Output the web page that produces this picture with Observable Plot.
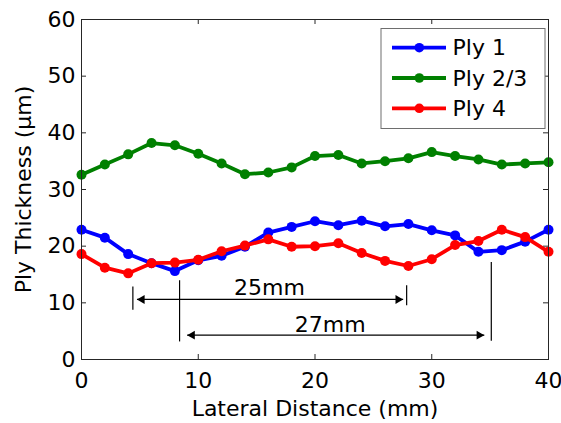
<!DOCTYPE html>
<html><head><meta charset="utf-8">
<script src="https://cdn.jsdelivr.net/npm/d3@7"></script>
<script src="https://cdn.jsdelivr.net/npm/@observablehq/plot@0.6"></script>
<style>body{margin:0;background:#fff;} #chart{width:561px;height:423px;}</style>
</head><body><div id="chart"></div>
<script>
// ---- data ----
const distance = [0,2,4,6,8,10,12,14,16,18,20,22,24,26,28,30,32,34,36,38,40];
const ply1  = [22.9,21.5,18.6,17.0,15.6,17.5,18.3,19.9,22.4,23.4,24.4,23.7,24.5,23.5,23.9,22.8,21.9,19.0,19.3,20.8,22.9];
const ply23 = [32.6,34.4,36.2,38.2,37.8,36.3,34.6,32.7,33.0,33.9,35.9,36.1,34.6,35.0,35.5,36.6,35.9,35.3,34.4,34.6,34.8];
const ply4  = [18.6,16.2,15.2,17.0,17.1,17.6,19.1,20.1,21.2,19.9,20.0,20.5,18.8,17.4,16.5,17.7,20.2,20.9,22.9,21.6,19.0];
const seriesNames  = ["Ply 1","Ply 2/3","Ply 4"];
const seriesColors = ["#0000ff","#008000","#ff0000"];
const xTicks = [0,10,20,30,40];
const yTicks = [0,10,20,30,40,50,60];
const innerXTicks = [10,20,30];
const innerYTicks = [10,20,30,40,50];
const xLabel = "Lateral Distance (mm)";
const yLabel = "Ply Thickness (µm)";
// annotation: bounding bars and spans
const spanBars = [
  {x:4.4,  y1:8.7, y2:12.8},
  {x:27.85,y1:9.5, y2:13.0},
  {x:8.4,  y1:3.1, y2:13.9},
  {x:35.1, y1:3.2, y2:17.1}
];
const spanArrows = [
  {label:"25mm", x1:4.75, x2:27.55, y:10.6, lx:16.1, ly:12.7},
  {label:"27mm", x1:9.05, x2:34.5,  y:4.3,  lx:21.3, ly:6.1}
];

// ---- build ----
const seriesValues = [ply1, ply23, ply4];
const W=561, H=423, mL=81, mR=13, mT=19, mB=64;
const fw = W-mL-mR, fh = H-mT-mB, tk = 5;
const font = "DejaVu Sans";
const axisColor = "#262626";

const seriesMarks = seriesNames.flatMap((name,i) => {
  const rows = distance.map((d,j) => ({x:d, y:seriesValues[i][j]}));
  return [
    Plot.line(rows, {x:"x", y:"y", stroke:seriesColors[i], strokeWidth:3.8}),
    Plot.dot(rows, {x:"x", y:"y", fill:seriesColors[i], stroke:null, r:5})
  ];
});

const plot = Plot.plot({
  width:W, height:H, marginLeft:mL, marginRight:mR, marginTop:mT, marginBottom:mB,
  style:{fontFamily:font, fontSize:"22px", background:"#fff", color:"#000", overflow:"visible"},
  x:{domain:[0,40]},
  y:{domain:[0,60]},
  marks:[
    Plot.axisX(xTicks, {tickSize:0, tickPadding:13, label:null, fontSize:22}),
    Plot.axisY(yTicks, {tickSize:0, tickPadding:6, label:null, fontSize:22}),
    Plot.tickX(innerXTicks, {x:d=>d, insetTop: fh-tk, stroke:axisColor}),
    Plot.tickX(innerXTicks, {x:d=>d, insetBottom: fh-tk, stroke:axisColor}),
    Plot.tickY(innerYTicks, {y:d=>d, insetRight: fw-tk, stroke:axisColor}),
    Plot.tickY(innerYTicks, {y:d=>d, insetLeft: fw-tk, stroke:axisColor}),
    ...seriesMarks,
    Plot.ruleX(spanBars, {x:"x", y1:"y1", y2:"y2", stroke:"#000", strokeWidth:1.2}),
    Plot.link(spanArrows, {x1:"x1", x2:"x2", y1:"y", y2:"y", stroke:"#000", strokeWidth:1.2}),
    Plot.dot(spanArrows, {x:"x1", y:"y", symbol:"triangle", r:3.3, rotate:-90, dx:5.1, fill:"#000", stroke:null}),
    Plot.dot(spanArrows, {x:"x2", y:"y", symbol:"triangle", r:3.3, rotate:90, dx:-5.1, fill:"#000", stroke:null}),
    Plot.text(spanArrows, {x:"lx", y:"ly", text:"label", fontSize:22, fill:"#000"}),
    Plot.frame({stroke:axisColor}),
    Plot.text([xLabel], {frameAnchor:"bottom", dy:56, lineAnchor:"bottom", textAnchor:"middle", fontSize:22, fill:"#000"}),
    Plot.text([yLabel], {frameAnchor:"left", dx:-51, rotate:-90, lineAnchor:"bottom", textAnchor:"middle", fontSize:22, fill:"#000"})
  ]
});

// legend drawn inside the same svg
const svg = d3.select(plot);
const lg = svg.append("g").attr("font-family", font).attr("font-size", 22).attr("text-anchor","start");
lg.append("rect").attr("x",381).attr("y",28.5).attr("width",164).attr("height",100)
  .attr("fill","#fff").attr("stroke","#6e6e6e").attr("stroke-width",1);
seriesNames.forEach((name,i) => {
  const cy = 47.7 + i*30.3;
  lg.append("line").attr("x1",392).attr("x2",446).attr("y1",cy).attr("y2",cy)
    .attr("stroke",seriesColors[i]).attr("stroke-width",3.8);
  lg.append("circle").attr("cx",419.3).attr("cy",cy).attr("r",4.8).attr("fill",seriesColors[i]);
  lg.append("text").attr("x",452.5).attr("y",cy+7.5).attr("fill","#000").attr("text-anchor","start").text(name);
});

document.getElementById("chart").appendChild(plot);
</script>
</body></html>
